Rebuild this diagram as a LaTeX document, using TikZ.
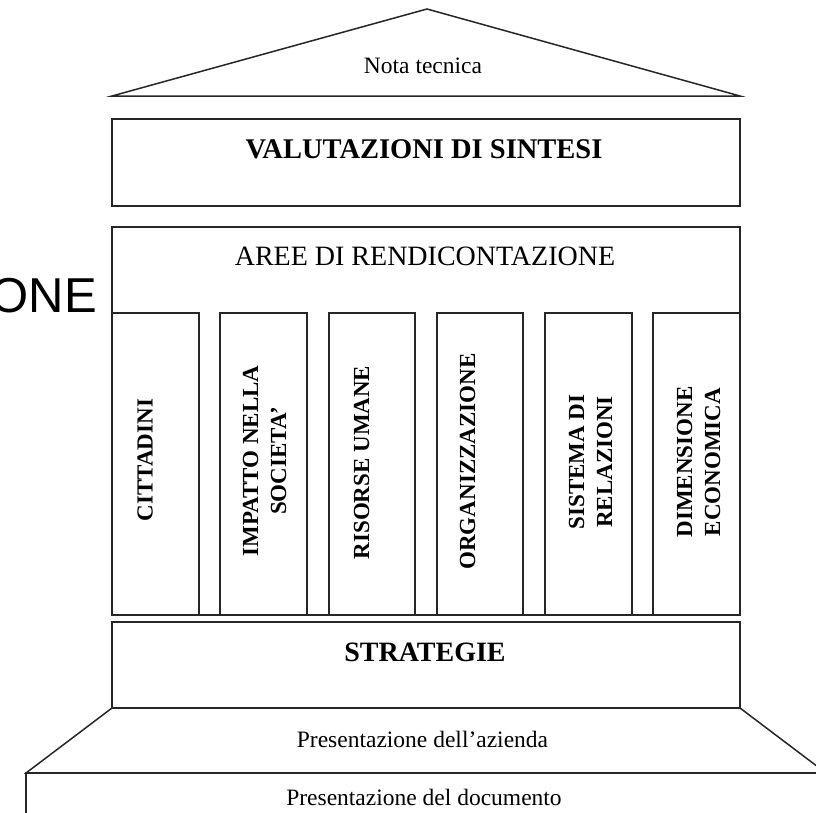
\documentclass[tikz,border=0pt]{standalone}
\usepackage{fontspec}
\setmainfont{Liberation Serif}
\newfontfamily\arialfont{Liberation Sans}
\usetikzlibrary{positioning}

\begin{document}
\begin{tikzpicture}[
    x=1pt, y=-1pt,
    part/.style={draw=black!85, line width=1.5pt, line join=miter},
    thintext/.style={inner sep=0pt, anchor=base, font=\fontsize{23.5}{28}\selectfont},
    headtext/.style={inner sep=0pt, anchor=base, font=\bfseries\fontsize{28.5}{34}\selectfont},
    pillartext/.style={inner sep=0pt, rotate=90, align=center, font=\bfseries\fontsize{23}{28}\selectfont}
]
    \useasboundingbox (0,0) rectangle (816,812);
    \clip (0,0) rectangle (816,812);

    % Roof
    \draw[part] (112,96) -- (427,9) -- (740,96) -- cycle;
    \node[thintext] (nota) at (423,73) {Nota tecnica};

    % Valutazioni
    \draw[part] (112,119) rectangle (740,206);
    \node[headtext] (valutazioni) at (424,158) {VALUTAZIONI DI SINTESI};

    % Aree di rendicontazione
    \draw[part] (112,227) rectangle (740,615);
    \node[thintext, font=\fontsize{28}{34}\selectfont] (aree) at (425,265) {AREE DI RENDICONTAZIONE};

    % Pillars
    \draw[part] (112,313) rectangle (199,615);
    \draw[part] (220,313) rectangle (307,615);
    \draw[part] (329,313) rectangle (415,615);
    \draw[part] (437,313) rectangle (523,615);
    \draw[part] (545,313) rectangle (632,615);
    \draw[part] (653,313) rectangle (740,615);
    \node[pillartext] (cittadini) at (145,460) {CITTADINI};
    \node[pillartext] (impatto) at (264.5,461) {IMPATTO NELLA\\SOCIETA’};
    \node[pillartext] (risorse) at (361.5,462.5) {RISORSE UMANE};
    \node[pillartext] (organizzazione) at (467.5,461.5) {ORGANIZZAZIONE};
    \node[pillartext] (sistema) at (590.5,462) {SISTEMA DI\\RELAZIONI};
    \node[pillartext] (dimensione) at (698.5,462) {DIMENSIONE\\ECONOMICA};

    % Strategie
    \draw[part] (112,622) rectangle (740,708);
    \node[headtext, font=\bfseries\fontsize{28}{34}\selectfont] (strategie) at (425,661) {STRATEGIE};

    % Steps
    \draw[part] (112,708) -- (26,773) -- (826,773) -- (740,708);
    \node[thintext] (azienda) at (422.5,747) {Presentazione dell’azienda};
    \draw[part] (26,773) rectangle (826,850);
    \node[thintext] (documento) at (424,805) {Presentazione del documento};

    % Cut-off side label
    \node[inner sep=0pt, anchor=base east, font=\arialfont\fontsize{49}{56}\selectfont] (one) at (97,312) {ONE};
\end{tikzpicture}
\end{document}
